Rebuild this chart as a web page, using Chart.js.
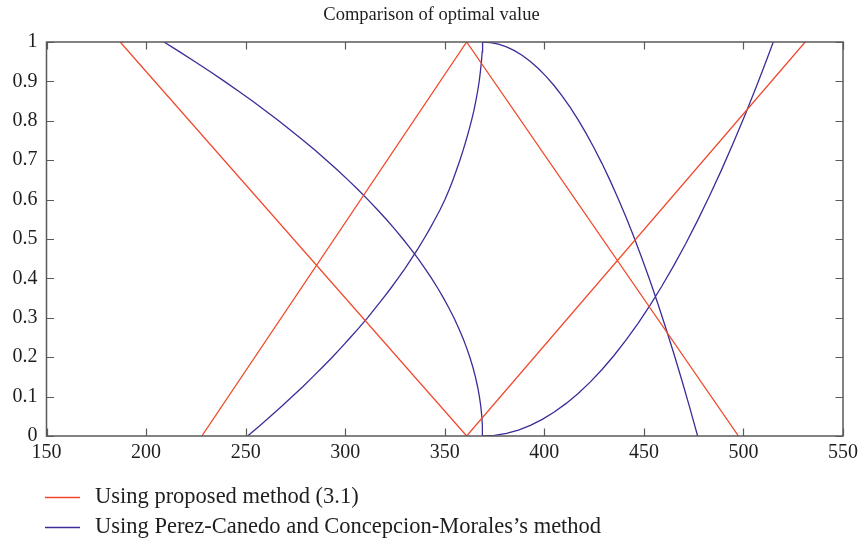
<!DOCTYPE html>
<html>
<head>
<meta charset="utf-8">
<script src="https://cdn.jsdelivr.net/npm/chart.js@4.4.0/dist/chart.umd.min.js"></script>
<style>
html,body{margin:0;padding:0;background:#fff;}
#wrap{width:863px;height:541px;position:relative;}
</style>
</head>
<body>
<div id="wrap"><canvas id="c" width="863" height="541"></canvas></div>
<script>
// ---- data ----
const titleText = 'Comparison of optimal value';
const seriesNames = ['Using proposed method (3.1)', 'Using Perez-Canedo and Concepcion-Morales\u2019s method'];
const xTicks = [150, 200, 250, 300, 350, 400, 450, 500, 550];
const yTicks = [0, 0.1, 0.2, 0.3, 0.4, 0.5, 0.6, 0.7, 0.8, 0.9, 1];
const yTickLabels = ['0', '0.1', '0.2', '0.3', '0.4', '0.5', '0.6', '0.7', '0.8', '0.9', '1'];

// proposed method (red): four straight segments, separated by null gaps
const redX = [187, 361, null, 228, 361, null, 361, 497.5, null, 361, 531];
const redY = [1, 0, null, 0, 1, null, 1, 0, null, 0, 1];

// Perez-Canedo & Concepcion-Morales (blue): four curves
const blueLeftDownX = [369, 368.9, 368.6, 368.1, 367.4, 366.5, 365.4, 364.1, 362.6, 360.9, 359, 356.9, 354.6, 352.1, 349.4, 346.5, 343.4, 340.1, 336.6, 332.9, 329, 324.9, 320.6, 316.1, 311.4, 306.5, 301.4, 296.1, 290.6, 284.9, 279, 272.9, 266.6, 260.1, 253.4, 246.5, 239.4, 232.1, 224.6, 216.9, 209];
const blueLeftDownY = [0, 0.025, 0.05, 0.075, 0.1, 0.125, 0.15, 0.175, 0.2, 0.225, 0.25, 0.275, 0.3, 0.325, 0.35, 0.375, 0.4, 0.425, 0.45, 0.475, 0.5, 0.525, 0.55, 0.575, 0.6, 0.625, 0.65, 0.675, 0.7, 0.725, 0.75, 0.775, 0.8, 0.825, 0.85, 0.875, 0.9, 0.925, 0.95, 0.975, 1];
const blueLeftUpX = [251, 256.8, 262.5, 268, 273.4, 278.7, 283.7, 288.7, 293.5, 298.1, 302.6, 307, 311.2, 315.2, 319.1, 322.9, 326.5, 330, 333.3, 336.5, 339.5, 342.4, 345.1, 347.7, 350.1, 352.2, 354.1, 355.9, 357.6, 359.2, 360.7, 362.1, 363.4, 364.6, 365.6, 366.5, 367.3, 367.9, 368.4, 368.8, 369];
const blueLeftUpY = [0, 0.025, 0.05, 0.075, 0.1, 0.125, 0.15, 0.175, 0.2, 0.225, 0.25, 0.275, 0.3, 0.325, 0.35, 0.375, 0.4, 0.425, 0.45, 0.475, 0.5, 0.525, 0.55, 0.575, 0.6, 0.625, 0.65, 0.675, 0.7, 0.725, 0.75, 0.775, 0.8, 0.825, 0.85, 0.875, 0.9, 0.925, 0.95, 0.975, 1];
const blueRightDownX = [369, 373, 377, 381, 385, 389, 393, 397, 401, 405, 409, 413, 417, 421, 425, 429, 433, 437, 441, 445, 449, 453, 457, 461, 465, 469, 473, 477];
const blueRightDownY = [1, 0.9986, 0.9945, 0.9877, 0.9781, 0.9657, 0.9506, 0.9328, 0.9122, 0.8889, 0.8628, 0.834, 0.8025, 0.7682, 0.7311, 0.6914, 0.6488, 0.6036, 0.5556, 0.5048, 0.4513, 0.3951, 0.3361, 0.2743, 0.2099, 0.1427, 0.0727, 0];
const blueRightUpX = [369, 375, 381, 387, 393, 399, 405, 411, 417, 423, 429, 435, 441, 447, 453, 459, 465, 471, 477, 483, 489, 495, 501, 507, 511, 515];
const blueRightUpY = [0, 0.0017, 0.0068, 0.0152, 0.027, 0.0422, 0.0608, 0.0828, 0.1081, 0.1368, 0.1689, 0.2044, 0.2432, 0.2854, 0.331, 0.38, 0.4323, 0.4881, 0.5472, 0.6097, 0.6755, 0.7448, 0.8174, 0.8934, 0.946, 1];

// ---- build library data ----
function pts(xs, ys) { return xs.map((x, i) => ({x: x === null ? NaN : x, y: ys[i] === null ? NaN : ys[i]})); }
const gap = [{x: NaN, y: NaN}];
const redData = pts(redX, redY);
const blueData = [].concat(
  pts(blueLeftDownX, blueLeftDownY), gap,
  pts(blueLeftUpX, blueLeftUpY), gap,
  pts(blueRightDownX, blueRightDownY), gap,
  pts(blueRightUpX, blueRightUpY)
);

const RED = '#f2492b';
const BLUE = '#3b2d98';
const AXIS = '#5a5a5a';
const TXT = '#1e1e1e';
const FONT = '"Liberation Serif", "DejaVu Serif", serif';

const frame = {
  id: 'frame',
  afterDatasetsDraw(chart) {
    const {ctx, chartArea: a, scales} = chart;
    ctx.save();
    ctx.strokeStyle = AXIS;
    ctx.lineWidth = 1.5;
    ctx.strokeRect(a.left, a.top, a.right - a.left, a.bottom - a.top);
    ctx.lineWidth = 1.2;
    const tl = 7.5;
    ctx.beginPath();
    xTicks.forEach(v => {
      const px = Math.round(scales.x.getPixelForValue(v)) + 0.5;
      ctx.moveTo(px, a.bottom); ctx.lineTo(px, a.bottom - tl);
      ctx.moveTo(px, a.top); ctx.lineTo(px, a.top + tl);
    });
    yTicks.forEach(v => {
      const py = Math.round(scales.y.getPixelForValue(v)) + 0.5;
      ctx.moveTo(a.left, py); ctx.lineTo(a.left + tl, py);
      ctx.moveTo(a.right, py); ctx.lineTo(a.right - tl, py);
    });
    ctx.stroke();
    ctx.restore();
  },
  afterDraw(chart) {
    const {ctx} = chart;
    ctx.save();
    ctx.fillStyle = TXT;
    ctx.font = '18.5px ' + FONT;
    ctx.textAlign = 'center';
    ctx.textBaseline = 'middle';
    ctx.fillText(titleText, 431.5, 15);
    // legend
    const colors = [RED, BLUE];
    const rows = [497, 527];
    ctx.textAlign = 'left';
    ctx.font = '22.5px ' + FONT;
    seriesNames.forEach((n, i) => {
      ctx.strokeStyle = colors[i];
      ctx.lineWidth = 1.4;
      ctx.beginPath();
      ctx.moveTo(45, rows[i] + 0.5); ctx.lineTo(80, rows[i] + 0.5);
      ctx.stroke();
      ctx.fillStyle = TXT;
      ctx.fillText(n, 95, rows[i]);
    });
    ctx.restore();
  }
};

new Chart(document.getElementById('c'), {
  type: 'scatter',
  data: {
    datasets: [
      {label: seriesNames[0], data: redData, showLine: true, borderColor: RED, backgroundColor: RED, borderWidth: 1.3, pointRadius: 0, tension: 0, spanGaps: false},
      {label: seriesNames[1], data: blueData, showLine: true, borderColor: BLUE, backgroundColor: BLUE, borderWidth: 1.3, pointRadius: 0, tension: 0, spanGaps: false}
    ]
  },
  options: {
    responsive: false,
    animation: false,
    layout: {padding: {left: 0, right: 16.5, top: 42, bottom: 0}},
    plugins: {legend: {display: false}, title: {display: false}, tooltip: {enabled: false}},
    scales: {
      x: {
        type: 'linear', min: 150, max: 550,
        afterBuildTicks(s) { s.ticks = xTicks.map(v => ({value: v})); },
        afterFit(s) { s.height = 105; },
        grid: {display: false, drawTicks: false},
        border: {display: false},
        ticks: {color: TXT, font: {family: FONT, size: 20}, padding: 5, maxRotation: 0, autoSkip: false, callback: v => String(v)}
      },
      y: {
        type: 'linear', min: 0, max: 1,
        afterBuildTicks(s) { s.ticks = yTicks.map(v => ({value: v})); },
        afterFit(s) { s.width = 46.5; },
        grid: {display: false, drawTicks: false},
        border: {display: false},
        ticks: {color: TXT, font: {family: FONT, size: 20}, padding: 9, autoSkip: false, callback: (v, i) => yTickLabels[i]}
      }
    }
  },
  plugins: [frame]
});
</script>
</body>
</html>
